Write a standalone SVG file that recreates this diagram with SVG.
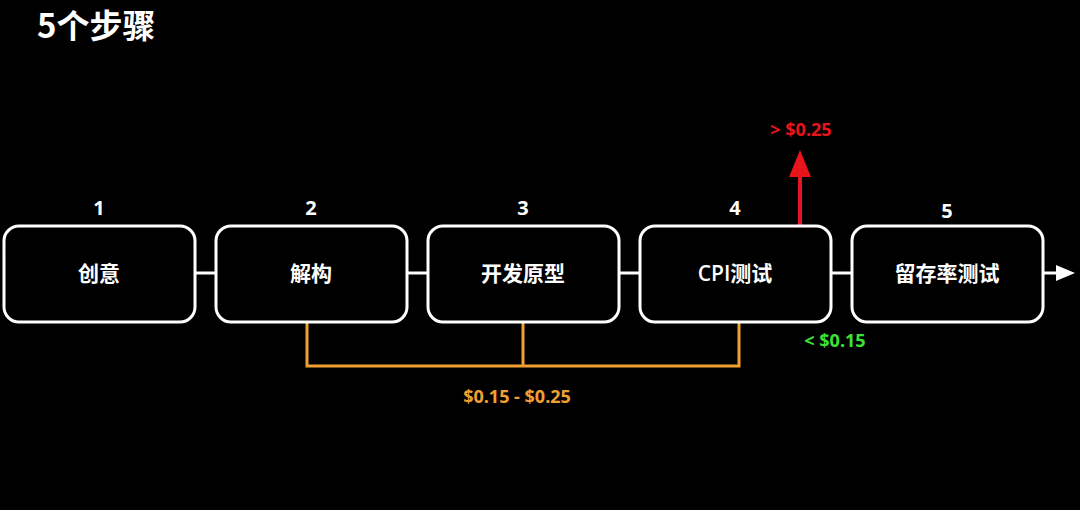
<svg xmlns="http://www.w3.org/2000/svg" width="1080" height="510" viewBox="0 0 1080 510">
<style>
text{font-family:"Open Sans","Noto Sans CJK SC",sans-serif;font-weight:700}
.box{fill:#000;stroke:#fff;stroke-width:3}
.lbl{fill:#fff;font-size:21px;text-anchor:middle;font-weight:600}
.num{fill:#fff;font-size:20px;text-anchor:middle}
.val{font-size:18px;text-anchor:middle}
.link{stroke:#fff;stroke-width:3;fill:none}
.org{stroke:#f0a030;stroke-width:3;fill:none}
</style>
<rect width="1080" height="510" fill="#000"/>
<text x="37" y="38" fill="#fff" font-size="33" style="font-family:'Noto Sans CJK SC','Open Sans',sans-serif">5个步骤</text>
<g id="connectors">
<line class="link" x1="195" y1="273" x2="216" y2="273"/>
<line class="link" x1="407" y1="273" x2="428" y2="273"/>
<line class="link" x1="619" y1="273" x2="640" y2="273"/>
<line class="link" x1="831" y1="273" x2="852" y2="273"/>
<line x1="1044" y1="273" x2="1058" y2="273" stroke="#fff" stroke-width="3"/>
<path d="M1056,265 L1075,273 L1056,281Z" fill="#fff"/>
<path class="org" d="M307,322 V366 H739 V322 M523,322 V366"/>
<line x1="800" y1="226" x2="800" y2="176" stroke="#e8141b" stroke-width="4"/>
<path d="M789,177 L800,150 L811,177Z" fill="#e8141b"/>
</g>
<g id="n1"><rect class="box" x="4" y="226" width="191" height="96" rx="15"/><text class="num" x="99" y="215">1</text><text class="lbl" x="99" y="281">创意</text></g>
<g id="n2"><rect class="box" x="216" y="226" width="191" height="96" rx="15"/><text class="num" x="311" y="215">2</text><text class="lbl" x="311" y="281">解构</text></g>
<g id="n3"><rect class="box" x="428" y="226" width="191" height="96" rx="15"/><text class="num" x="523" y="215">3</text><text class="lbl" x="523" y="281">开发原型</text></g>
<g id="n4"><rect class="box" x="640" y="226" width="191" height="96" rx="15"/><text class="num" x="735" y="215">4</text><text class="lbl" x="735" y="281">CPI测试</text></g>
<g id="n5"><rect class="box" x="852" y="226" width="191" height="96" rx="15"/><text class="num" x="947" y="218">5</text><text class="lbl" x="947" y="281">留存率测试</text></g>
<text class="val" x="801" y="136" fill="#e8141b">&gt; $0.25</text>
<text class="val" x="835" y="347" fill="#3ee03a">&lt; $0.15</text>
<text class="val" x="517" y="403" fill="#f0a030">$0.15 - $0.25</text>
</svg>
